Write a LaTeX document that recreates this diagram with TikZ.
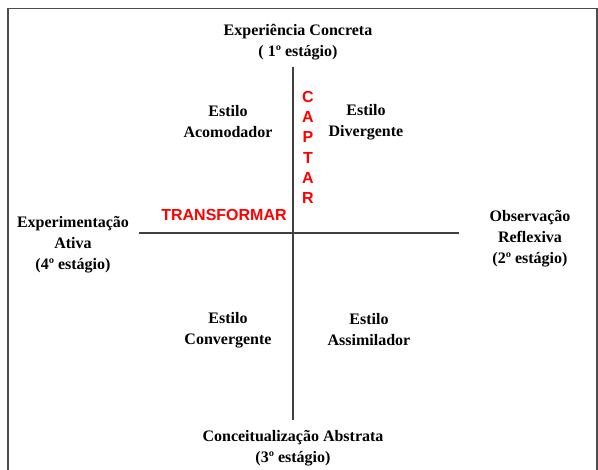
\documentclass[tikz,border=0pt]{standalone}
\usepackage{fontspec}
\setmainfont{Liberation Serif}
\newfontfamily\arialfont{Liberation Sans}
\usepackage{xcolor}
\usepackage{tikz}
\tikzset{
  stg/.style={align=center, font=\fontsize{16}{21}\selectfont\bfseries, inner sep=0pt},
  qd/.style={align=center, font=\fontsize{16}{21}\selectfont\bfseries, inner sep=0pt},
  verb/.style={align=center, text=red, font=\arialfont\fontsize{16}{20.3}\selectfont\bfseries, inner sep=0pt},
  axis/.style={draw=black!75, line width=1.2pt},
}

\begin{document}
\begin{tikzpicture}[x=1pt, y=-1pt]
  \useasboundingbox (0,0) rectangle (598,470);
  % open frame (top, left, right)
  \draw[black!70, line width=1.4pt] (8,470) -- (8,8.5) -- (597,8.5) -- (597,470);
  % axes
  \coordinate (n) at (293,67);
  \coordinate (s) at (293,420);
  \coordinate (w) at (139,233);
  \coordinate (e) at (459,233);
  \draw[axis] (n) -- (s);
  \draw[axis] (w) -- (e);
  % the four stages
  \node[stg] (ce) at (298,42) {Experiência Concreta\\( 1º estágio)};
  \node[stg] (or) at (530,239) {Observação\\Reflexiva\\(2º estágio)};
  \node[stg] (ca) at (293,448) {Conceitualização Abstrata\\(3º estágio)};
  \node[stg] (ea) at (73,245) {Experimentação\\Ativa\\(4º estágio)};
  % the four styles
  \node[qd] (aco) at (228,122) {Estilo\\Acomodador};
  \node[qd] (div) at (366,122) {Estilo\\Divergente};
  \node[qd] (con) at (228,330) {Estilo\\Convergente};
  \node[qd] (ass) at (369,330) {Estilo\\Assimilador};
  % grasping / transforming
  \node[verb] (cap) at (308,147.5) {C\\A\\P\\T\\A\\R};
  \node[verb] (tra) at (224,215) {TRANSFORMAR};
\end{tikzpicture}
\end{document}
